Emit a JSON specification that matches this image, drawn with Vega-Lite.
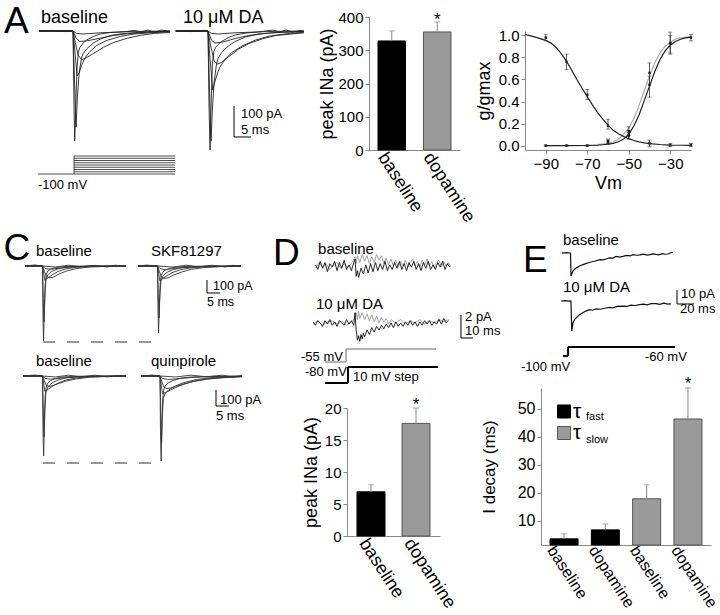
{
"$schema":"https://vega.github.io/schema/vega-lite/v6.json",
"padding":0,
"background":"white",
"config":{"view":{"stroke":null},"font":"Liberation Sans","axis":{"grid":false,"domainColor":"#888","tickColor":"#888","labelColor":"#000","titleColor":"#000","titleFontWeight":"normal","labelFontSize":15,"titleFontSize":18,"tickSize":4,"labelPadding":2,"labelOverlap":false,"labelFlush":false},"text":{"color":"#000"}},
"bounds":"flush",
"spacing":0,
"vconcat":[
 {"bounds":"flush","spacing":0,"hconcat":[
  {"width":366,"height":1,"data":{"values":[{"z":0}]},"mark":{"type":"point","opacity":0},"encoding":{}},
  {"bounds":"flush","spacing":0,"vconcat":[
   {"width":1,"height":14,"data":{"values":[{"z":0}]},"mark":{"type":"point","opacity":0},"encoding":{}},
   {"width":91,"height":133,
    "data":{"values":[{"cond":"baseline","m":328,"hi":358},{"cond":"dopamine","m":355,"hi":385}]},
    "encoding":{"x":{"field":"cond","type":"nominal","sort":null,"scale":{"paddingInner":0.396,"paddingOuter":0.198},"axis":{"title":null,"labelAngle":57,"ticks":false,"labelFontSize":18,"labelPadding":4,"labelOffset":-10}}},
    "layer":[
     {"mark":{"type":"bar","strokeWidth":1},"encoding":{"y":{"field":"m","type":"quantitative","scale":{"domain":[0,400],"nice":false},"axis":{"title":"peak INa (pA)","values":[0,100,200,300,400],"tickCount":10,"titlePadding":1,"labelOverlap":false,"labelFlush":false}},"fill":{"field":"cond","type":"nominal","scale":{"domain":["baseline","dopamine"],"range":["#000000","#9a9a9a"]},"legend":null},"stroke":{"field":"cond","type":"nominal","scale":{"domain":["baseline","dopamine"],"range":["#000000","#555555"]},"legend":null}}},
     {"mark":{"type":"rule","color":"#888","strokeWidth":1},"encoding":{"y":{"field":"m","type":"quantitative"},"y2":{"field":"hi"}}},
     {"mark":{"type":"tick","color":"#888","thickness":1,"size":6,"orient":"horizontal"},"encoding":{"y":{"field":"hi","type":"quantitative"}}},
     {"data":{"values":[{"cond":"dopamine","m":376}]},"mark":{"type":"text","text":"*","fontSize":17,"baseline":"alphabetic"},"encoding":{"y":{"field":"m","type":"quantitative"}}}
    ]}
  ]}
 ]},
 {"bounds":"flush","spacing":0,"hconcat":[
  {"width":522,"height":1,"data":{"values":[{"z":0}]},"mark":{"type":"point","opacity":0},"encoding":{}},
  {"bounds":"flush","spacing":0,"vconcat":[
   {"width":1,"height":28,"data":{"values":[{"z":0}]},"mark":{"type":"point","opacity":0},"encoding":{}},
   {"width":166,"height":119,
    "encoding":{"x":{"field":"V","type":"quantitative","scale":{"domain":[-100,-20],"nice":false,"zero":false},"axis":{"title":"Vm","values":[-90,-70,-50,-30],"tickCount":10,"titlePadding":3,"labelOverlap":false,"labelFlush":false}}},
    "layer":[
     {"data":{"values":[
{"c":"actDA","V":-90,"g":0},{"c":"actDA","V":-80,"g":0.001},{"c":"actDA","V":-70,"g":0.003},{"c":"actDA","V":-65,"g":0.008},{"c":"actDA","V":-60,"g":0.02},{"c":"actDA","V":-57.5,"g":0.035},{"c":"actDA","V":-55,"g":0.058},{"c":"actDA","V":-52.5,"g":0.1},{"c":"actDA","V":-50,"g":0.16},{"c":"actDA","V":-47.5,"g":0.245},{"c":"actDA","V":-45,"g":0.365},{"c":"actDA","V":-42.5,"g":0.5},{"c":"actDA","V":-40,"g":0.635},{"c":"actDA","V":-37.5,"g":0.75},{"c":"actDA","V":-35,"g":0.84},{"c":"actDA","V":-32.5,"g":0.9},{"c":"actDA","V":-30,"g":0.94},{"c":"actDA","V":-27.5,"g":0.965},{"c":"actDA","V":-25,"g":0.978},{"c":"actDA","V":-22.5,"g":0.985},{"c":"actDA","V":-20,"g":0.99},
{"c":"inact","V":-100,"g":1.01},{"c":"inact","V":-95,"g":0.985},{"c":"inact","V":-90,"g":0.955},{"c":"inact","V":-87.5,"g":0.93},{"c":"inact","V":-85,"g":0.89},{"c":"inact","V":-82.5,"g":0.835},{"c":"inact","V":-80,"g":0.765},{"c":"inact","V":-77.5,"g":0.685},{"c":"inact","V":-75,"g":0.6},{"c":"inact","V":-72.5,"g":0.52},{"c":"inact","V":-70,"g":0.445},{"c":"inact","V":-67.5,"g":0.37},{"c":"inact","V":-65,"g":0.3},{"c":"inact","V":-62.5,"g":0.24},{"c":"inact","V":-60,"g":0.185},{"c":"inact","V":-57.5,"g":0.14},{"c":"inact","V":-55,"g":0.108},{"c":"inact","V":-52.5,"g":0.082},{"c":"inact","V":-50,"g":0.062},{"c":"inact","V":-47.5,"g":0.046},{"c":"inact","V":-45,"g":0.034},{"c":"inact","V":-42.5,"g":0.025},{"c":"inact","V":-40,"g":0.018},{"c":"inact","V":-35,"g":0.01},{"c":"inact","V":-30,"g":0.005},{"c":"inact","V":-25,"g":0.003},{"c":"inact","V":-20,"g":0.002},
{"c":"act","V":-90,"g":0},{"c":"act","V":-80,"g":0},{"c":"act","V":-70,"g":0.001},{"c":"act","V":-65,"g":0.003},{"c":"act","V":-60,"g":0.012},{"c":"act","V":-57.5,"g":0.02},{"c":"act","V":-55,"g":0.035},{"c":"act","V":-52.5,"g":0.06},{"c":"act","V":-50,"g":0.1},{"c":"act","V":-47.5,"g":0.18},{"c":"act","V":-45,"g":0.28},{"c":"act","V":-42.5,"g":0.41},{"c":"act","V":-40,"g":0.54},{"c":"act","V":-37.5,"g":0.67},{"c":"act","V":-35,"g":0.78},{"c":"act","V":-32.5,"g":0.86},{"c":"act","V":-30,"g":0.91},{"c":"act","V":-27.5,"g":0.945},{"c":"act","V":-25,"g":0.965},{"c":"act","V":-22.5,"g":0.978},{"c":"act","V":-20,"g":0.985}
     ]},"mark":{"type":"line","strokeWidth":1.2},"encoding":{"y":{"field":"g","type":"quantitative","scale":{"domain":[-0.04,1.04],"nice":false,"zero":false},"axis":{"title":"g/gmax","values":[0,0.2,0.4,0.6,0.8,1],"tickCount":10,"format":".1f","titlePadding":5,"labelOverlap":false,"labelFlush":false}},"color":{"field":"c","type":"nominal","scale":{"domain":["actDA","inact","act"],"range":["#aaaaaa","#222222","#222222"]},"legend":null},"detail":{"field":"c"}}},
     {"data":{"values":[
{"V":-90,"g":0.98,"lo":0.95,"hi":1.01},{"V":-80,"g":0.76,"lo":0.69,"hi":0.83},{"V":-70,"g":0.46,"lo":0.42,"hi":0.51},{"V":-60,"g":0.18,"lo":0.15,"hi":0.24},{"V":-50,"g":0.09,"lo":0.06,"hi":0.12},{"V":-40,"g":0.02,"lo":-0.01,"hi":0.05},{"V":-30,"g":0.005,"lo":-0.01,"hi":0.02},{"V":-20,"g":0.005,"lo":-0.01,"hi":0.02},
{"V":-90,"g":0,"lo":-0.005,"hi":0.005},{"V":-80,"g":0,"lo":-0.005,"hi":0.005},{"V":-70,"g":0,"lo":-0.005,"hi":0.005},{"V":-60,"g":0.03,"lo":0.01,"hi":0.05},{"V":-50,"g":0.1,"lo":0.06,"hi":0.14},{"V":-40,"g":0.55,"lo":0.44,"hi":0.63},{"V":-30,"g":0.93,"lo":0.84,"hi":1.0},{"V":-20,"g":0.98,"lo":0.95,"hi":1.01},
{"V":-60,"g":0.04,"lo":0.02,"hi":0.06},{"V":-50,"g":0.13,"lo":0.09,"hi":0.17},{"V":-40,"g":0.66,"lo":0.56,"hi":0.75},{"V":-30,"g":0.93,"lo":0.83,"hi":1.03}
     ]},
      "layer":[
       {"mark":{"type":"rule","color":"#333","strokeWidth":0.8},"encoding":{"y":{"field":"lo","type":"quantitative"},"y2":{"field":"hi"}}},
       {"mark":{"type":"tick","color":"#333","thickness":0.8,"size":4,"orient":"horizontal"},"encoding":{"y":{"field":"lo","type":"quantitative"}}},
       {"mark":{"type":"tick","color":"#333","thickness":0.8,"size":4,"orient":"horizontal"},"encoding":{"y":{"field":"hi","type":"quantitative"}}},
       {"mark":{"type":"point","filled":true,"shape":"square","size":6,"color":"#222","opacity":1},"encoding":{"y":{"field":"g","type":"quantitative"}}}
      ]}
    ]}
  ]}
 ]},
 {"bounds":"flush","spacing":0,"vconcat":[
  {"width":1,"height":228,"data":{"values":[{"z":0}]},"mark":{"type":"point","opacity":0},"encoding":{}},
  {"width":262,"height":242,"resolve":{"scale":{"x":"independent","y":"independent"}},
   "layer":[
    {"encoding":{"x":{"field":"t","type":"quantitative","scale":{"domain":[-15.19,85.58],"nice":false,"zero":false},"axis":null},"y":{"field":"i","type":"quantitative","scale":{"domain":[-1592.3,269.2],"nice":false,"zero":false},"axis":null}},
     "layer":[
      {"data":{"values":[
{"s":"a","t":-6.7,"i":0},{"s":"a","t":0,"i":0},{"s":"a","t":0.2,"i":-400},{"s":"a","t":0.4,"i":-577},{"s":"a","t":0.7,"i":-350},{"s":"a","t":1,"i":-150},{"s":"a","t":1.4,"i":-70},{"s":"a","t":2,"i":-40},{"s":"a","t":3,"i":-25},{"s":"a","t":5,"i":-12},{"s":"a","t":8,"i":-5},{"s":"a","t":12,"i":-2},{"s":"a","t":20,"i":0},{"s":"a","t":32,"i":0},
{"s":"b","t":-6.7,"i":0},{"s":"b","t":0,"i":0},{"s":"b","t":0.3,"i":-250},{"s":"b","t":0.6,"i":-430},{"s":"b","t":0.9,"i":-250},{"s":"b","t":1.3,"i":-110},{"s":"b","t":2,"i":-70},{"s":"b","t":3,"i":-50},{"s":"b","t":4,"i":-38},{"s":"b","t":6,"i":-22},{"s":"b","t":9,"i":-10},{"s":"b","t":14,"i":-4},{"s":"b","t":20,"i":-1},{"s":"b","t":32,"i":0},
{"s":"c","t":-6.7,"i":0},{"s":"c","t":0,"i":0},{"s":"c","t":0.5,"i":-60},{"s":"c","t":0.9,"i":-110},{"s":"c","t":1.5,"i":-100},{"s":"c","t":2.5,"i":-85},{"s":"c","t":4,"i":-65},{"s":"c","t":6,"i":-42},{"s":"c","t":9,"i":-22},{"s":"c","t":13,"i":-10},{"s":"c","t":18,"i":-4},{"s":"c","t":32,"i":0},
{"s":"d","t":-6.7,"i":0},{"s":"d","t":0,"i":0},{"s":"d","t":0.7,"i":-40},{"s":"d","t":1.5,"i":-80},{"s":"d","t":2.5,"i":-90},{"s":"d","t":4,"i":-88},{"s":"d","t":6,"i":-65},{"s":"d","t":9,"i":-40},{"s":"d","t":13,"i":-20},{"s":"d","t":18,"i":-8},{"s":"d","t":25,"i":-3},{"s":"d","t":32,"i":0},
{"s":"e","t":-6.7,"i":0},{"s":"e","t":0,"i":0},{"s":"e","t":1,"i":-20},{"s":"e","t":3,"i":-25},{"s":"e","t":6,"i":-18},{"s":"e","t":10,"i":-9},{"s":"e","t":16,"i":-3},{"s":"e","t":32,"i":0},
{"s":"f","t":-6.7,"i":0},{"s":"f","t":-3,"i":8},{"s":"f","t":0,"i":0},{"s":"f","t":5,"i":-8},{"s":"f","t":10,"i":6},{"s":"f","t":15,"i":-6},{"s":"f","t":20,"i":5},{"s":"f","t":25,"i":-7},{"s":"f","t":28,"i":6},{"s":"f","t":32,"i":-3}
      ]},"mark":{"type":"line","color":"#333","strokeWidth":0.9},"encoding":{"detail":{"field":"s"}}},
      {"data":{"values":[{"t":0.2,"t2":45.2,"i":-584.6,"i2":-584.6}]},"mark":{"type":"rule","color":"#777","strokeWidth":1.5,"strokeDash":[12,12]},"encoding":{"x2":{"field":"t2"},"y2":{"field":"i2"}}},
      {"data":{"values":[{"t":-2.5,"i":76.9,"label":"baseline"}]},"mark":{"type":"text","align":"left","baseline":"alphabetic","fontSize":15},"encoding":{"text":{"field":"label"}}},
      {"data":{"values":[{"t":-15.0,"i":46,"label":"C"}]},"mark":{"type":"text","align":"left","baseline":"alphabetic","fontSize":37},"encoding":{"text":{"field":"label"}}}
     ]},
    {"encoding":{"x":{"field":"t","type":"quantitative","scale":{"domain":[-59.42,41.35],"nice":false,"zero":false},"axis":null},"y":{"field":"i","type":"quantitative","scale":{"domain":[-1592.3,269.2],"nice":false,"zero":false},"axis":null}},
     "layer":[
      {"data":{"values":[
{"s":"a","t":-7.5,"i":0},{"s":"a","t":0,"i":0},{"s":"a","t":0.2,"i":-350},{"s":"a","t":0.4,"i":-515},{"s":"a","t":0.7,"i":-320},{"s":"a","t":1,"i":-140},{"s":"a","t":1.4,"i":-75},{"s":"a","t":2,"i":-48},{"s":"a","t":3,"i":-32},{"s":"a","t":5,"i":-16},{"s":"a","t":8,"i":-7},{"s":"a","t":12,"i":-3},{"s":"a","t":20,"i":-1},{"s":"a","t":32.1,"i":0},
{"s":"b","t":-7.5,"i":0},{"s":"b","t":0,"i":0},{"s":"b","t":0.3,"i":-220},{"s":"b","t":0.6,"i":-400},{"s":"b","t":0.9,"i":-240},{"s":"b","t":1.3,"i":-120},{"s":"b","t":2,"i":-80},{"s":"b","t":3,"i":-58},{"s":"b","t":4,"i":-45},{"s":"b","t":6,"i":-28},{"s":"b","t":9,"i":-14},{"s":"b","t":14,"i":-6},{"s":"b","t":20,"i":-2},{"s":"b","t":32.1,"i":0},
{"s":"c","t":-7.5,"i":0},{"s":"c","t":0,"i":0},{"s":"c","t":0.5,"i":-60},{"s":"c","t":0.9,"i":-115},{"s":"c","t":1.5,"i":-105},{"s":"c","t":2.5,"i":-90},{"s":"c","t":4,"i":-70},{"s":"c","t":6,"i":-48},{"s":"c","t":9,"i":-28},{"s":"c","t":13,"i":-14},{"s":"c","t":18,"i":-6},{"s":"c","t":32.1,"i":-1},
{"s":"d","t":-7.5,"i":0},{"s":"d","t":0,"i":0},{"s":"d","t":0.7,"i":-40},{"s":"d","t":1.5,"i":-85},{"s":"d","t":2.5,"i":-95},{"s":"d","t":4,"i":-92},{"s":"d","t":6,"i":-72},{"s":"d","t":9,"i":-48},{"s":"d","t":13,"i":-26},{"s":"d","t":18,"i":-12},{"s":"d","t":25,"i":-4},{"s":"d","t":32.1,"i":-1},
{"s":"e","t":-7.5,"i":0},{"s":"e","t":0,"i":0},{"s":"e","t":1,"i":-20},{"s":"e","t":3,"i":-28},{"s":"e","t":6,"i":-20},{"s":"e","t":10,"i":-11},{"s":"e","t":16,"i":-4},{"s":"e","t":32.1,"i":0},
{"s":"f","t":-7.5,"i":0},{"s":"f","t":-4,"i":7},{"s":"f","t":0,"i":0},{"s":"f","t":6,"i":-8},{"s":"f","t":11,"i":6},{"s":"f","t":16,"i":-7},{"s":"f","t":21,"i":6},{"s":"f","t":26,"i":-8},{"s":"f","t":29,"i":5},{"s":"f","t":32.1,"i":-2}
      ]},"mark":{"type":"line","color":"#333","strokeWidth":0.9},"encoding":{"detail":{"field":"s"}}},
      {"data":{"values":[{"t":19.04,"t2":19.04,"i":-107.7,"i2":-207.7},{"t":19.04,"t2":24.04,"i":-207.7,"i2":-207.7}]},"mark":{"type":"rule","color":"#000","strokeWidth":1},"encoding":{"x2":{"field":"t2"},"y2":{"field":"i2"}}},
      {"data":{"values":[{"t":-2.5,"i":76.9,"label":"SKF81297"}]},"mark":{"type":"text","align":"left","baseline":"alphabetic","fontSize":15},"encoding":{"text":{"field":"label"}}},
      {"data":{"values":[{"t":21.35,"i":-184.6,"label":"100 pA"},{"t":19.04,"i":-307.7,"label":"5 ms"}]},"mark":{"type":"text","align":"left","baseline":"alphabetic","fontSize":12.5},"encoding":{"text":{"field":"label"}}}
     ]},
    {"encoding":{"x":{"field":"t","type":"quantitative","scale":{"domain":[-15.19,85.58],"nice":false,"zero":false},"axis":null},"y":{"field":"i","type":"quantitative","scale":{"domain":[-606.25,906.25],"nice":false,"zero":false},"axis":null}},
     "layer":[
      {"data":{"values":[
{"s":"a","t":-7.5,"i":0},{"s":"a","t":0,"i":0},{"s":"a","t":0.2,"i":-350},{"s":"a","t":0.45,"i":-500},{"s":"a","t":0.7,"i":-300},{"s":"a","t":1,"i":-130},{"s":"a","t":1.4,"i":-70},{"s":"a","t":2,"i":-45},{"s":"a","t":3,"i":-30},{"s":"a","t":5,"i":-15},{"s":"a","t":8,"i":-6},{"s":"a","t":12,"i":-2},{"s":"a","t":20,"i":0},{"s":"a","t":32.1,"i":0},
{"s":"b","t":-7.5,"i":0},{"s":"b","t":0,"i":0},{"s":"b","t":0.3,"i":-200},{"s":"b","t":0.6,"i":-380},{"s":"b","t":0.9,"i":-220},{"s":"b","t":1.3,"i":-105},{"s":"b","t":2,"i":-70},{"s":"b","t":3,"i":-52},{"s":"b","t":4,"i":-40},{"s":"b","t":6,"i":-25},{"s":"b","t":9,"i":-12},{"s":"b","t":14,"i":-5},{"s":"b","t":20,"i":-2},{"s":"b","t":32.1,"i":0},
{"s":"c","t":-7.5,"i":0},{"s":"c","t":0,"i":0},{"s":"c","t":0.5,"i":-50},{"s":"c","t":0.9,"i":-95},{"s":"c","t":1.5,"i":-90},{"s":"c","t":2.5,"i":-80},{"s":"c","t":4,"i":-62},{"s":"c","t":6,"i":-44},{"s":"c","t":9,"i":-25},{"s":"c","t":13,"i":-12},{"s":"c","t":18,"i":-5},{"s":"c","t":32.1,"i":0},
{"s":"d","t":-7.5,"i":0},{"s":"d","t":0,"i":0},{"s":"d","t":0.7,"i":-30},{"s":"d","t":1.5,"i":-60},{"s":"d","t":2.5,"i":-65},{"s":"d","t":4,"i":-60},{"s":"d","t":6,"i":-48},{"s":"d","t":9,"i":-32},{"s":"d","t":13,"i":-18},{"s":"d","t":18,"i":-8},{"s":"d","t":25,"i":-3},{"s":"d","t":32.1,"i":0},
{"s":"e","t":-7.5,"i":0},{"s":"e","t":0,"i":0},{"s":"e","t":1,"i":-15},{"s":"e","t":3,"i":-20},{"s":"e","t":6,"i":-15},{"s":"e","t":10,"i":-8},{"s":"e","t":16,"i":-3},{"s":"e","t":32.1,"i":0},
{"s":"f","t":-7.5,"i":0},{"s":"f","t":-3,"i":6},{"s":"f","t":0,"i":0},{"s":"f","t":5,"i":-6},{"s":"f","t":10,"i":5},{"s":"f","t":15,"i":-6},{"s":"f","t":20,"i":5},{"s":"f","t":25,"i":-6},{"s":"f","t":29,"i":4},{"s":"f","t":32.1,"i":-2}
      ]},"mark":{"type":"line","color":"#333","strokeWidth":0.9},"encoding":{"detail":{"field":"s"}}},
      {"data":{"values":[{"t":0.2,"t2":45.2,"i":-543.75,"i2":-543.75}]},"mark":{"type":"rule","color":"#777","strokeWidth":1.5,"strokeDash":[12,12]},"encoding":{"x2":{"field":"t2"},"y2":{"field":"i2"}}},
      {"data":{"values":[{"t":-2.5,"i":62.5,"label":"baseline"}]},"mark":{"type":"text","align":"left","baseline":"alphabetic","fontSize":15},"encoding":{"text":{"field":"label"}}}
     ]},
    {"encoding":{"x":{"field":"t","type":"quantitative","scale":{"domain":[-60.38,40.38],"nice":false,"zero":false},"axis":null},"y":{"field":"i","type":"quantitative","scale":{"domain":[-606.25,906.25],"nice":false,"zero":false},"axis":null}},
     "layer":[
      {"data":{"values":[
{"s":"a","t":-7.3,"i":0},{"s":"a","t":0,"i":0},{"s":"a","t":0.2,"i":-380},{"s":"a","t":0.45,"i":-531},{"s":"a","t":0.7,"i":-320},{"s":"a","t":1,"i":-150},{"s":"a","t":1.4,"i":-90},{"s":"a","t":2,"i":-62},{"s":"a","t":3,"i":-45},{"s":"a","t":5,"i":-28},{"s":"a","t":8,"i":-14},{"s":"a","t":12,"i":-6},{"s":"a","t":20,"i":-2},{"s":"a","t":31.5,"i":0},
{"s":"b","t":-7.3,"i":0},{"s":"b","t":0,"i":0},{"s":"b","t":0.3,"i":-230},{"s":"b","t":0.6,"i":-420},{"s":"b","t":0.9,"i":-250},{"s":"b","t":1.3,"i":-140},{"s":"b","t":2,"i":-108},{"s":"b","t":3,"i":-92},{"s":"b","t":4,"i":-80},{"s":"b","t":6,"i":-62},{"s":"b","t":9,"i":-42},{"s":"b","t":14,"i":-22},{"s":"b","t":20,"i":-10},{"s":"b","t":31.5,"i":-3},
{"s":"c","t":-7.3,"i":0},{"s":"c","t":0,"i":0},{"s":"c","t":0.5,"i":-60},{"s":"c","t":1,"i":-110},{"s":"c","t":1.6,"i":-106},{"s":"c","t":2.5,"i":-100},{"s":"c","t":4,"i":-88},{"s":"c","t":6,"i":-72},{"s":"c","t":9,"i":-52},{"s":"c","t":13,"i":-32},{"s":"c","t":18,"i":-18},{"s":"c","t":25,"i":-8},{"s":"c","t":31.5,"i":-3},
{"s":"d","t":-7.3,"i":0},{"s":"d","t":0,"i":0},{"s":"d","t":0.7,"i":-35},{"s":"d","t":1.5,"i":-70},{"s":"d","t":2.5,"i":-78},{"s":"d","t":4,"i":-75},{"s":"d","t":6,"i":-65},{"s":"d","t":9,"i":-50},{"s":"d","t":13,"i":-34},{"s":"d","t":18,"i":-20},{"s":"d","t":25,"i":-10},{"s":"d","t":31.5,"i":-5},
{"s":"e","t":-7.3,"i":0},{"s":"e","t":0,"i":0},{"s":"e","t":1,"i":-15},{"s":"e","t":3,"i":-22},{"s":"e","t":6,"i":-18},{"s":"e","t":10,"i":-12},{"s":"e","t":16,"i":-6},{"s":"e","t":31.5,"i":-1},
{"s":"f","t":-7.3,"i":0},{"s":"f","t":-3,"i":6},{"s":"f","t":0,"i":0},{"s":"f","t":6,"i":-6},{"s":"f","t":12,"i":5},{"s":"f","t":18,"i":-5},{"s":"f","t":24,"i":5},{"s":"f","t":28,"i":-6},{"s":"f","t":31.5,"i":2}
      ]},"mark":{"type":"line","color":"#333","strokeWidth":0.9},"encoding":{"detail":{"field":"s"}}},
      {"data":{"values":[{"t":21.54,"t2":21.54,"i":-87.5,"i2":-187.5},{"t":21.54,"t2":26.54,"i":-187.5,"i2":-187.5}]},"mark":{"type":"rule","color":"#000","strokeWidth":1},"encoding":{"x2":{"field":"t2"},"y2":{"field":"i2"}}},
      {"data":{"values":[{"t":-3.46,"i":62.5,"label":"quinpirole"}]},"mark":{"type":"text","align":"left","baseline":"alphabetic","fontSize":15},"encoding":{"text":{"field":"label"}}},
      {"data":{"values":[{"t":23.08,"i":-175,"label":"100 pA"},{"t":21.54,"i":-275,"label":"5 ms"}]},"mark":{"type":"text","align":"left","baseline":"alphabetic","fontSize":13},"encoding":{"text":{"field":"label"}}}
     ]}
   ]}
 ]},
 {"bounds":"flush","spacing":0,"hconcat":[
  {"width":268,"height":1,"data":{"values":[{"z":0}]},"mark":{"type":"point","opacity":0},"encoding":{}},
  {"bounds":"flush","spacing":0,"vconcat":[
   {"width":1,"height":228,"data":{"values":[{"z":0}]},"mark":{"type":"point","opacity":0},"encoding":{}},
   {"width":222,"height":160,"resolve":{"scale":{"x":"independent","y":"independent"}},
    "layer":[
     {"encoding":{"x":{"field":"t","type":"quantitative","scale":{"domain":[-70,115],"nice":false,"zero":false},"axis":null},"y":{"field":"i","type":"quantitative","scale":{"domain":[-10.87,3.043],"nice":false,"zero":false},"axis":null}},
      "layer":[
       {"data":{"values":[
{"t":-33,"i":-0.2},{"t":-30,"i":0.3},{"t":-27,"i":-0.1},{"t":-24,"i":0.2},{"t":-21,"i":-0.3},{"t":-18,"i":0.1},{"t":-15,"i":0.3},{"t":-12,"i":-0.2},{"t":-9,"i":0.2},{"t":-6,"i":-0.1},{"t":-3,"i":0.2},{"t":0,"i":0.8},{"t":1,"i":0.2},{"t":2,"i":0.9},{"t":4,"i":0.3},{"t":6,"i":1.0},{"t":8,"i":0.4},{"t":10,"i":0.9},{"t":12,"i":0.2},{"t":14,"i":0.8},{"t":16,"i":0.3},{"t":18,"i":1.0},{"t":20,"i":0.5},{"t":22,"i":0.9},{"t":24,"i":0.2},{"t":26,"i":0.7},{"t":28,"i":0.1},{"t":30,"i":0.6},{"t":32,"i":0.0},{"t":34,"i":0.5},{"t":36,"i":-0.1},{"t":38,"i":0.4},{"t":40,"i":0.0},{"t":42,"i":0.5},{"t":44,"i":-0.1},{"t":46,"i":0.3},{"t":48,"i":0.6},{"t":50,"i":0.0},{"t":52,"i":0.4},{"t":54,"i":-0.1},{"t":56,"i":0.5},{"t":58,"i":0.1},{"t":60,"i":0.6},{"t":62,"i":0.0},{"t":64,"i":0.4},{"t":66,"i":-0.2},{"t":68,"i":0.3},{"t":70,"i":0.5},{"t":72,"i":-0.1},{"t":74,"i":0.4},{"t":76,"i":0.0},{"t":78,"i":0.3},{"t":80,"i":-0.1}
       ]},"mark":{"type":"line","color":"#999","strokeWidth":0.9}},
       {"data":{"values":[
{"t":-33,"i":0.1},{"t":-31,"i":-0.3},{"t":-29,"i":0.4},{"t":-27,"i":-0.2},{"t":-25,"i":0.3},{"t":-23,"i":-0.5},{"t":-21,"i":0.2},{"t":-19,"i":-0.1},{"t":-17,"i":0.4},{"t":-15,"i":-0.4},{"t":-13,"i":0.3},{"t":-11,"i":-0.2},{"t":-9,"i":0.5},{"t":-7,"i":-0.3},{"t":-5,"i":0.1},{"t":-3,"i":-0.4},{"t":-1,"i":0.3},{"t":0,"i":0.6},{"t":1,"i":-0.9},{"t":2,"i":-0.4},{"t":3,"i":-1.0},{"t":5,"i":-0.2},{"t":7,"i":-0.7},{"t":9,"i":0.1},{"t":11,"i":-0.6},{"t":13,"i":0.2},{"t":15,"i":-0.5},{"t":17,"i":0.3},{"t":19,"i":-0.4},{"t":21,"i":0.2},{"t":23,"i":-0.3},{"t":25,"i":0.4},{"t":27,"i":-0.4},{"t":29,"i":0.1},{"t":31,"i":-0.3},{"t":33,"i":0.3},{"t":35,"i":-0.2},{"t":37,"i":0.4},{"t":39,"i":-0.3},{"t":41,"i":0.2},{"t":43,"i":-0.4},{"t":45,"i":0.3},{"t":47,"i":-0.1},{"t":49,"i":0.4},{"t":51,"i":-0.3},{"t":53,"i":0.2},{"t":55,"i":-0.4},{"t":57,"i":0.3},{"t":59,"i":-0.2},{"t":61,"i":0.4},{"t":63,"i":-0.3},{"t":65,"i":0.1},{"t":67,"i":-0.3},{"t":69,"i":0.3},{"t":71,"i":-0.1},{"t":73,"i":0.4},{"t":75,"i":-0.3},{"t":77,"i":0.2},{"t":79,"i":-0.1}
       ]},"mark":{"type":"line","color":"#111","strokeWidth":0.9}},
       {"data":{"values":[{"t":-68.3,"i":0.087,"label":"D"}]},"mark":{"type":"text","align":"left","baseline":"alphabetic","fontSize":37},"encoding":{"text":{"field":"label"}}},
       {"data":{"values":[{"t":-30.8,"i":1.04,"label":"baseline"}]},"mark":{"type":"text","align":"left","baseline":"alphabetic","fontSize":15},"encoding":{"text":{"field":"label"}}}
      ]},
     {"encoding":{"x":{"field":"t","type":"quantitative","scale":{"domain":[-70,115],"nice":false,"zero":false},"axis":null},"y":{"field":"i","type":"quantitative","scale":{"domain":[-5.913,8],"nice":false,"zero":false},"axis":null}},
      "layer":[
       {"data":{"values":[
{"t":-35,"i":-0.1},{"t":-31,"i":0.2},{"t":-27,"i":-0.2},{"t":-23,"i":0.1},{"t":-19,"i":0.2},{"t":-15,"i":-0.1},{"t":-11,"i":0.2},{"t":-7,"i":-0.2},{"t":-3,"i":0.1},{"t":0,"i":0.4},{"t":1,"i":0.9},{"t":2,"i":0.3},{"t":3,"i":1.0},{"t":4,"i":0.4},{"t":6,"i":0.9},{"t":8,"i":0.3},{"t":10,"i":0.8},{"t":12,"i":0.2},{"t":14,"i":0.7},{"t":16,"i":0.1},{"t":18,"i":0.6},{"t":20,"i":0.0},{"t":22,"i":0.5},{"t":24,"i":0.1},{"t":26,"i":0.4},{"t":28,"i":-0.1},{"t":30,"i":0.3},{"t":34,"i":0.0},{"t":38,"i":0.3},{"t":42,"i":-0.1},{"t":46,"i":0.2},{"t":50,"i":0.0},{"t":54,"i":0.3},{"t":58,"i":-0.1},{"t":62,"i":0.2},{"t":66,"i":0.0},{"t":70,"i":0.3},{"t":74,"i":0.1},{"t":78,"i":0.3}
       ]},"mark":{"type":"line","color":"#999","strokeWidth":0.9}},
       {"data":{"values":[
{"t":-35,"i":0.1},{"t":-33,"i":-0.2},{"t":-31,"i":0.2},{"t":-29,"i":0.0},{"t":-27,"i":-0.3},{"t":-25,"i":0.2},{"t":-23,"i":-0.1},{"t":-21,"i":0.3},{"t":-19,"i":-0.2},{"t":-17,"i":0.1},{"t":-15,"i":-0.3},{"t":-13,"i":0.2},{"t":-11,"i":0.0},{"t":-9,"i":-0.2},{"t":-7,"i":0.3},{"t":-5,"i":-0.1},{"t":-3,"i":0.2},{"t":-1,"i":-0.2},{"t":0,"i":0.9},{"t":1,"i":-0.6},{"t":2,"i":-1.5},{"t":3,"i":-1.1},{"t":4,"i":-1.6},{"t":5,"i":-1.0},{"t":6,"i":-1.4},{"t":7,"i":-0.9},{"t":8,"i":-1.2},{"t":10,"i":-0.6},{"t":12,"i":-1.0},{"t":14,"i":-0.4},{"t":16,"i":-0.8},{"t":18,"i":-0.3},{"t":20,"i":-0.6},{"t":22,"i":-0.2},{"t":24,"i":-0.5},{"t":26,"i":-0.1},{"t":28,"i":-0.4},{"t":30,"i":0.0},{"t":32,"i":-0.4},{"t":34,"i":0.1},{"t":36,"i":-0.3},{"t":38,"i":0.0},{"t":40,"i":-0.3},{"t":42,"i":0.1},{"t":44,"i":-0.2},{"t":46,"i":0.2},{"t":48,"i":-0.2},{"t":50,"i":0.1},{"t":52,"i":-0.3},{"t":54,"i":0.1},{"t":56,"i":-0.2},{"t":58,"i":0.2},{"t":60,"i":-0.1},{"t":62,"i":0.2},{"t":64,"i":-0.2},{"t":66,"i":0.1},{"t":68,"i":-0.1},{"t":70,"i":0.3},{"t":72,"i":-0.1},{"t":74,"i":0.4},{"t":76,"i":0.0},{"t":78,"i":0.2}
       ]},"mark":{"type":"line","color":"#111","strokeWidth":0.9}},
       {"data":{"values":[{"t":88.3,"t2":88.3,"i":0.696,"i2":-1.304},{"t":88.3,"t2":98.3,"i":-1.304,"i2":-1.304}]},"mark":{"type":"rule","color":"#000","strokeWidth":1},"encoding":{"x2":{"field":"t2"},"y2":{"field":"i2"}}},
       {"data":{"values":[{"t":-32.5,"i":1.217,"label":"10 μM DA"}]},"mark":{"type":"text","align":"left","baseline":"alphabetic","fontSize":15},"encoding":{"text":{"field":"label"}}},
       {"data":{"values":[{"t":91.7,"i":0.174,"label":"2 pA"},{"t":91.7,"i":-1.04,"label":"10 ms"}]},"mark":{"type":"text","align":"left","baseline":"alphabetic","fontSize":13},"encoding":{"text":{"field":"label"}}}
      ]},
     {"encoding":{"x":{"field":"t","type":"quantitative","scale":{"domain":[-70,115],"nice":false,"zero":false},"axis":null},"y":{"field":"v","type":"quantitative","scale":{"domain":[-77.31,45.77],"nice":false,"zero":false},"axis":null}},
      "layer":[
       {"data":{"values":[{"t":-25,"t2":-7.5,"v":-55,"v2":-55},{"t":-7.5,"t2":-7.5,"v":-55,"v2":-45},{"t":-7.5,"t2":67.5,"v":-45,"v2":-45}]},"mark":{"type":"rule","color":"#999","strokeWidth":1.5},"encoding":{"x2":{"field":"t2"},"y2":{"field":"v2"}}},
       {"data":{"values":[{"t":-45,"v":-54.2,"label":"-55 mV"}]},"mark":{"type":"text","align":"left","baseline":"alphabetic","fontSize":13},"encoding":{"text":{"field":"label"}}}
      ]},
     {"encoding":{"x":{"field":"t","type":"quantitative","scale":{"domain":[-70,115],"nice":false,"zero":false},"axis":null},"y":{"field":"v","type":"quantitative","scale":{"domain":[-85,15],"nice":false,"zero":false},"axis":null}},
      "layer":[
       {"data":{"values":[{"t":-25,"t2":-5.83,"v":-80,"v2":-80},{"t":-5.83,"t2":-5.83,"v":-80,"v2":-70},{"t":-5.83,"t2":69.17,"v":-70,"v2":-70}]},"mark":{"type":"rule","color":"#000","strokeWidth":2}, "encoding":{"x2":{"field":"t2"},"y2":{"field":"v2"}}},
       {"data":{"values":[{"t":-41.7,"v":-75.5,"label":"-80 mV"},{"t":-1.67,"v":-78.75,"label":"10 mV step"}]},"mark":{"type":"text","align":"left","baseline":"alphabetic","fontSize":13},"encoding":{"text":{"field":"label"}}}
      ]}
    ]}
  ]}
 ]},
 {"bounds":"flush","spacing":0,"hconcat":[
  {"width":496,"height":1,"data":{"values":[{"z":0}]},"mark":{"type":"point","opacity":0},"encoding":{}},
  {"bounds":"flush","spacing":0,"vconcat":[
   {"width":1,"height":228,"data":{"values":[{"z":0}]},"mark":{"type":"point","opacity":0},"encoding":{}},
   {"width":224,"height":145,"resolve":{"scale":{"x":"independent","y":"independent"}},
    "layer":[
     {"encoding":{"x":{"field":"t","type":"quantitative","scale":{"domain":[-84.12,179.41],"nice":false,"zero":false},"axis":null},"y":{"field":"i","type":"quantitative","scale":{"domain":[-87.86,15.71],"nice":false,"zero":false},"axis":null}},
      "layer":[
       {"data":{"values":[
{"t":-10,"i":0},{"t":-5,"i":0.2},{"t":-1,"i":0},{"t":0,"i":0},{"t":0.6,"i":-16.4},{"t":1.5,"i":-15},{"t":2.9,"i":-12.9},{"t":4.5,"i":-11.8},{"t":6.5,"i":-10.7},{"t":9,"i":-9.9},{"t":11.2,"i":-9.1},{"t":14.7,"i":-8.3},{"t":18,"i":-7.6},{"t":23,"i":-6.6},{"t":28,"i":-5.9},{"t":34.7,"i":-4.8},{"t":38,"i":-4.9},{"t":41.8,"i":-4.3},{"t":46,"i":-3.5},{"t":50,"i":-3.6},{"t":53.5,"i":-2.4},{"t":58,"i":-2.9},{"t":61.8,"i":-2.4},{"t":66,"i":-1.7},{"t":70,"i":-2.1},{"t":73.5,"i":-1.2},{"t":78,"i":-1.6},{"t":81.8,"i":-1.4},{"t":86,"i":-0.8},{"t":90,"i":-1.5},{"t":93.5,"i":-1.2},{"t":97,"i":-0.6},{"t":100.6,"i":-1.0},{"t":104,"i":-1.3},{"t":108,"i":-0.5},{"t":111,"i":-0.9},{"t":114.7,"i":-0.7},{"t":118,"i":0.2},{"t":120.6,"i":0.5}
       ]},"mark":{"type":"line","color":"#111","strokeWidth":1.2}},
       {"data":{"values":[{"t":-55.9,"i":-13.57,"label":"E"}]},"mark":{"type":"text","align":"left","baseline":"alphabetic","fontSize":37},"encoding":{"text":{"field":"label"}}},
       {"data":{"values":[{"t":-8.8,"i":5.71,"label":"baseline"}]},"mark":{"type":"text","align":"left","baseline":"alphabetic","fontSize":15},"encoding":{"text":{"field":"label"}}}
      ]},
     {"encoding":{"x":{"field":"t","type":"quantitative","scale":{"domain":[-84.12,179.41],"nice":false,"zero":false},"axis":null},"y":{"field":"i","type":"quantitative","scale":{"domain":[-53.57,50],"nice":false,"zero":false},"axis":null}},
      "layer":[
       {"data":{"values":[
{"t":-11,"i":0},{"t":-6,"i":0.2},{"t":-2,"i":-0.1},{"t":0.5,"i":0},{"t":1.5,"i":-21.4},{"t":2.9,"i":-15.7},{"t":4.5,"i":-13.5},{"t":6.5,"i":-12},{"t":8.5,"i":-11},{"t":10.6,"i":-9.8},{"t":14,"i":-8.6},{"t":18,"i":-7.2},{"t":22.4,"i":-6.2},{"t":26,"i":-6.6},{"t":30,"i":-5.6},{"t":35,"i":-5.9},{"t":41.8,"i":-5},{"t":46,"i":-4.6},{"t":50,"i":-4.9},{"t":55,"i":-3.9},{"t":61.8,"i":-3.6},{"t":66,"i":-3.9},{"t":71,"i":-2.9},{"t":76,"i":-3.2},{"t":81.2,"i":-2.6},{"t":86,"i":-2.2},{"t":90,"i":-2.8},{"t":95,"i":-1.9},{"t":100.6,"i":-1.9},{"t":105,"i":-2.4},{"t":110,"i":-1.6},{"t":114,"i":-2.2},{"t":118,"i":-2.1}
       ]},"mark":{"type":"line","color":"#111","strokeWidth":1.2}},
       {"data":{"values":[{"t":125.3,"t2":125.3,"i":7.86,"i2":-2.14},{"t":125.3,"t2":145.3,"i":-2.14,"i2":-2.14}]},"mark":{"type":"rule","color":"#000","strokeWidth":1},"encoding":{"x2":{"field":"t2"},"y2":{"field":"i2"}}},
       {"data":{"values":[{"t":-8.8,"i":6.43,"label":"10 μM DA"}]},"mark":{"type":"text","align":"left","baseline":"alphabetic","fontSize":15},"encoding":{"text":{"field":"label"}}},
       {"data":{"values":[{"t":130,"i":2.14,"label":"10 pA"},{"t":128.8,"i":-8.57,"label":"20 ms"}]},"mark":{"type":"text","align":"left","baseline":"alphabetic","fontSize":13},"encoding":{"text":{"field":"label"}}}
      ]},
     {"encoding":{"x":{"field":"t","type":"quantitative","scale":{"domain":[-84.12,179.41],"nice":false,"zero":false},"axis":null},"y":{"field":"v","type":"quantitative","scale":{"domain":[-188.9,455.6],"nice":false,"zero":false},"axis":null}},
      "layer":[
       {"data":{"values":[{"t":-8.8,"t2":-2.9,"v":-100,"v2":-100},{"t":-2.9,"t2":-2.9,"v":-100,"v2":-60},{"t":-2.9,"t2":123,"v":-60,"v2":-60}]},"mark":{"type":"rule","color":"#000","strokeWidth":2},"encoding":{"x2":{"field":"t2"},"y2":{"field":"v2"}}},
       {"data":{"values":[{"t":-58.2,"v":-166.7,"label":"-100 mV"},{"t":87.6,"v":-122.2,"label":"-60 mV"}]},"mark":{"type":"text","align":"left","baseline":"alphabetic","fontSize":13},"encoding":{"text":{"field":"label"}}}
      ]}
    ]}
  ]}
 ]},
 {"bounds":"flush","spacing":0,"hconcat":[
  {"width":344,"height":1,"data":{"values":[{"z":0}]},"mark":{"type":"point","opacity":0},"encoding":{}},
  {"bounds":"flush","spacing":0,"vconcat":[
   {"width":1,"height":405,"data":{"values":[{"z":0}]},"mark":{"type":"point","opacity":0},"encoding":{}},
   {"width":93,"height":128,
    "data":{"values":[{"cond":"baseline","m":6.9,"hi":8.0},{"cond":"dopamine","m":17.6,"hi":20.0}]},
    "encoding":{"x":{"field":"cond","type":"nominal","sort":null,"scale":{"paddingInner":0.378,"paddingOuter":0.222},"axis":{"title":null,"labelAngle":57,"ticks":false,"labelFontSize":18,"labelPadding":4,"labelOffset":-8}}},
    "layer":[
     {"mark":{"type":"bar","strokeWidth":1},"encoding":{"y":{"field":"m","type":"quantitative","scale":{"domain":[0,20],"nice":false},"axis":{"title":"peak INa (pA)","values":[0,5,10,15,20],"tickCount":10,"titlePadding":4,"labelOverlap":false,"labelFlush":false}},"fill":{"field":"cond","type":"nominal","scale":{"domain":["baseline","dopamine"],"range":["#000000","#9a9a9a"]},"legend":null},"stroke":{"field":"cond","type":"nominal","scale":{"domain":["baseline","dopamine"],"range":["#000000","#555555"]},"legend":null}}},
     {"mark":{"type":"rule","color":"#888","strokeWidth":1},"encoding":{"y":{"field":"m","type":"quantitative"},"y2":{"field":"hi"}}},
     {"mark":{"type":"tick","color":"#888","thickness":1,"size":6,"orient":"horizontal"},"encoding":{"y":{"field":"hi","type":"quantitative"}}},
     {"data":{"values":[{"cond":"dopamine","m":19.7}]},"mark":{"type":"text","text":"*","fontSize":17,"baseline":"alphabetic"},"encoding":{"y":{"field":"m","type":"quantitative"}}}
    ]}
  ]}
 ]},
 {"bounds":"flush","spacing":0,"hconcat":[
  {"width":538,"height":1,"data":{"values":[{"z":0}]},"mark":{"type":"point","opacity":0},"encoding":{}},
  {"bounds":"flush","spacing":0,"vconcat":[
   {"width":1,"height":385,"data":{"values":[{"z":0}]},"mark":{"type":"point","opacity":0},"encoding":{}},
   {"width":170,"height":157,
    "encoding":{"x":{"field":"cat","type":"nominal","sort":["b1","d1","b2","d2"],"scale":{"domain":["b1","d1","b2","d2"],"paddingInner":0.322,"paddingOuter":0.219},"axis":{"title":null,"labelAngle":57,"ticks":false,"labelFontSize":16,"labelPadding":2,"labelOffset":-13,"labelExpr":"datum.value[0] == 'b' ? 'baseline' : 'dopamine'"}}},
    "layer":[
     {"data":{"values":[{"cat":"b1","m":3.6,"hi":5.4,"grp":"fast"},{"cat":"d1","m":6.8,"hi":8.9,"grp":"fast"},{"cat":"b2","m":17.9,"hi":22.9,"grp":"slow"},{"cat":"d2","m":46.4,"hi":57.5,"grp":"slow"}]},
      "layer":[
       {"mark":{"type":"bar","strokeWidth":1},"encoding":{"y":{"field":"m","type":"quantitative","scale":{"domain":[1.4,57.47],"nice":false,"zero":false},"axis":{"title":"I decay (ms)","values":[10,20,30,40,50],"tickCount":10,"titlePadding":19,"labelFontSize":16,"titleFontSize":17,"labelOverlap":false,"labelFlush":false}},"y2":{"datum":1.4},"fill":{"field":"grp","type":"nominal","scale":{"domain":["fast","slow"],"range":["#000000","#9a9a9a"]},"legend":null},"stroke":{"field":"grp","type":"nominal","scale":{"domain":["fast","slow"],"range":["#000000","#555555"]},"legend":null}}},
       {"mark":{"type":"rule","color":"#888","strokeWidth":1},"encoding":{"y":{"field":"m","type":"quantitative"},"y2":{"field":"hi"}}},
       {"mark":{"type":"tick","color":"#888","thickness":1,"size":6,"orient":"horizontal"},"encoding":{"y":{"field":"hi","type":"quantitative"}}}
      ]},
     {"data":{"values":[{"cat":"d2","m":57.1}]},"mark":{"type":"text","text":"*","fontSize":17,"baseline":"alphabetic"},"encoding":{"y":{"field":"m","type":"quantitative"}}},
     {"data":{"values":[{"cat":"b1","m":49.08,"grp":"fast"},{"cat":"b1","m":41.4,"grp":"slow"}]},"mark":{"type":"point","shape":"square","filled":true,"size":169,"opacity":1,"strokeWidth":1},"encoding":{"y":{"field":"m","type":"quantitative"},"fill":{"field":"grp","type":"nominal","legend":null},"stroke":{"field":"grp","type":"nominal","legend":null}}},
     {"data":{"values":[{"cat":"b1","m":46.76,"label":"τ"},{"cat":"b1","m":39.26,"label":"τ"}]},"mark":{"type":"text","align":"left","baseline":"alphabetic","fontSize":21,"dx":9},"encoding":{"y":{"field":"m","type":"quantitative"},"text":{"field":"label"}}},
     {"data":{"values":[{"cat":"b1","m":46.05,"label":"fast"},{"cat":"b1","m":37.83,"label":"slow"}]},"mark":{"type":"text","align":"left","baseline":"alphabetic","fontSize":11,"dx":22},"encoding":{"y":{"field":"m","type":"quantitative"},"text":{"field":"label"}}}
    ]}
  ]}
 ]},
 {"width":301,"height":190,"resolve":{"scale":{"x":"independent","y":"independent"}},
  "layer":[
   {"encoding":{"x":{"field":"t","type":"quantitative","scale":{"domain":[-20.588,67.941],"nice":false,"zero":false},"axis":null},"y":{"field":"i","type":"quantitative","scale":{"domain":[-540,93.33],"nice":false,"zero":false},"axis":null}},
    "layer":[
     {"data":{"values":[
{"s":"a","t":-10,"i":0},{"s":"a","t":0,"i":0},{"s":"a","t":0.3,"i":-250},{"s":"a","t":0.5,"i":-367},{"s":"a","t":0.8,"i":-250},{"s":"a","t":1.2,"i":-120},{"s":"a","t":1.6,"i":-70},{"s":"a","t":2,"i":-55},{"s":"a","t":3,"i":-40},{"s":"a","t":4,"i":-30},{"s":"a","t":6,"i":-18},{"s":"a","t":8,"i":-10},{"s":"a","t":11,"i":-5},{"s":"a","t":15,"i":-2},{"s":"a","t":20,"i":-1},{"s":"a","t":28.5,"i":0},
{"s":"b","t":-10,"i":0},{"s":"b","t":0,"i":0},{"s":"b","t":0.4,"i":-150},{"s":"b","t":0.9,"i":-320},{"s":"b","t":1.3,"i":-220},{"s":"b","t":1.8,"i":-140},{"s":"b","t":2.5,"i":-90},{"s":"b","t":3,"i":-75},{"s":"b","t":4,"i":-60},{"s":"b","t":6,"i":-40},{"s":"b","t":8,"i":-27},{"s":"b","t":11,"i":-15},{"s":"b","t":15,"i":-8},{"s":"b","t":20,"i":-4},{"s":"b","t":28.5,"i":-1},
{"s":"c","t":-10,"i":0},{"s":"c","t":0,"i":0},{"s":"c","t":0.5,"i":-60},{"s":"c","t":1.2,"i":-150},{"s":"c","t":1.8,"i":-140},{"s":"c","t":2.5,"i":-115},{"s":"c","t":3.5,"i":-90},{"s":"c","t":5,"i":-68},{"s":"c","t":7,"i":-48},{"s":"c","t":10,"i":-31},{"s":"c","t":14,"i":-18},{"s":"c","t":18,"i":-10},{"s":"c","t":24,"i":-5},{"s":"c","t":28.5,"i":-2},
{"s":"d","t":-10,"i":0},{"s":"d","t":0,"i":0},{"s":"d","t":0.7,"i":-40},{"s":"d","t":1.5,"i":-80},{"s":"d","t":2.5,"i":-95},{"s":"d","t":3.5,"i":-92},{"s":"d","t":5,"i":-82},{"s":"d","t":7,"i":-68},{"s":"d","t":9,"i":-54},{"s":"d","t":12,"i":-38},{"s":"d","t":16,"i":-24},{"s":"d","t":20,"i":-14},{"s":"d","t":24,"i":-8},{"s":"d","t":28.5,"i":-5},
{"s":"e","t":-10,"i":0},{"s":"e","t":0,"i":0},{"s":"e","t":1,"i":-25},{"s":"e","t":2,"i":-35},{"s":"e","t":4,"i":-33},{"s":"e","t":8,"i":-24},{"s":"e","t":12,"i":-15},{"s":"e","t":16,"i":-9},{"s":"e","t":22,"i":-4},{"s":"e","t":28.5,"i":-2},
{"s":"f","t":-10,"i":0},{"s":"f","t":-6,"i":2},{"s":"f","t":-2,"i":-2},{"s":"f","t":0,"i":0},{"s":"f","t":1,"i":-8},{"s":"f","t":3,"i":-10},{"s":"f","t":8,"i":-6},{"s":"f","t":15,"i":-3},{"s":"f","t":18,"i":2},{"s":"f","t":20,"i":-3},{"s":"f","t":22,"i":3},{"s":"f","t":24,"i":-4},{"s":"f","t":26,"i":3},{"s":"f","t":28.5,"i":-1}
     ]},"mark":{"type":"line","color":"#222","strokeWidth":0.9},"encoding":{"detail":{"field":"s"}}},
     {"data":{"values":[{"t":-9.41,"i":28.3,"label":"baseline"}]},"mark":{"type":"text","align":"left","baseline":"alphabetic","fontSize":18},"encoding":{"text":{"field":"label"}}},
     {"data":{"values":[{"t":-20.3,"i":-6.7,"label":"A"}]},"mark":{"type":"text","align":"left","baseline":"alphabetic","fontSize":37},"encoding":{"text":{"field":"label"}}}
    ]},
   {"encoding":{"x":{"field":"t","type":"quantitative","scale":{"domain":[-60.294,28.235],"nice":false,"zero":false},"axis":null},"y":{"field":"i","type":"quantitative","scale":{"domain":[-540,93.33],"nice":false,"zero":false},"axis":null}},
    "layer":[
     {"data":{"values":[
{"s":"a","t":-9.5,"i":0},{"s":"a","t":0,"i":0},{"s":"a","t":0.3,"i":-250},{"s":"a","t":0.6,"i":-397},{"s":"a","t":0.9,"i":-250},{"s":"a","t":1.3,"i":-110},{"s":"a","t":1.7,"i":-70},{"s":"a","t":2.2,"i":-55},{"s":"a","t":3,"i":-45},{"s":"a","t":4,"i":-35},{"s":"a","t":6,"i":-22},{"s":"a","t":8,"i":-13},{"s":"a","t":11,"i":-7},{"s":"a","t":15,"i":-3},{"s":"a","t":20,"i":-1},{"s":"a","t":28.2,"i":0},
{"s":"b","t":-9.5,"i":0},{"s":"b","t":0,"i":0},{"s":"b","t":0.4,"i":-180},{"s":"b","t":0.9,"i":-367},{"s":"b","t":1.3,"i":-260},{"s":"b","t":1.8,"i":-170},{"s":"b","t":2.5,"i":-110},{"s":"b","t":3,"i":-90},{"s":"b","t":4,"i":-72},{"s":"b","t":6,"i":-50},{"s":"b","t":8,"i":-35},{"s":"b","t":11,"i":-20},{"s":"b","t":15,"i":-10},{"s":"b","t":20,"i":-5},{"s":"b","t":28.2,"i":-1},
{"s":"c","t":-9.5,"i":0},{"s":"c","t":0,"i":0},{"s":"c","t":0.5,"i":-80},{"s":"c","t":1.4,"i":-197},{"s":"c","t":2,"i":-170},{"s":"c","t":2.8,"i":-140},{"s":"c","t":3.5,"i":-120},{"s":"c","t":5,"i":-95},{"s":"c","t":7,"i":-72},{"s":"c","t":10,"i":-50},{"s":"c","t":14,"i":-30},{"s":"c","t":18,"i":-17},{"s":"c","t":24,"i":-8},{"s":"c","t":28.2,"i":-4},
{"s":"d","t":-9.5,"i":0},{"s":"d","t":0,"i":0},{"s":"d","t":0.8,"i":-50},{"s":"d","t":1.8,"i":-100},{"s":"d","t":2.8,"i":-110},{"s":"d","t":4,"i":-105},{"s":"d","t":5.5,"i":-90},{"s":"d","t":7,"i":-78},{"s":"d","t":9,"i":-60},{"s":"d","t":12,"i":-42},{"s":"d","t":16,"i":-26},{"s":"d","t":20,"i":-15},{"s":"d","t":28.2,"i":-6},
{"s":"e","t":-9.5,"i":0},{"s":"e","t":0,"i":0},{"s":"e","t":1,"i":-30},{"s":"e","t":2,"i":-40},{"s":"e","t":4,"i":-38},{"s":"e","t":8,"i":-25},{"s":"e","t":12,"i":-15},{"s":"e","t":16,"i":-9},{"s":"e","t":22,"i":-4},{"s":"e","t":28.2,"i":-2},
{"s":"f","t":-9.5,"i":0},{"s":"f","t":-5,"i":-2},{"s":"f","t":-1,"i":2},{"s":"f","t":0,"i":0},{"s":"f","t":1,"i":-8},{"s":"f","t":3,"i":-10},{"s":"f","t":8,"i":-6},{"s":"f","t":15,"i":-3},{"s":"f","t":19,"i":3},{"s":"f","t":21,"i":-3},{"s":"f","t":23,"i":3},{"s":"f","t":25,"i":-4},{"s":"f","t":27,"i":2},{"s":"f","t":28.2,"i":-1}
     ]},"mark":{"type":"line","color":"#222","strokeWidth":0.9},"encoding":{"detail":{"field":"s"}}},
     {"data":{"values":[{"t":7.65,"t2":7.65,"i":-250,"i2":-353.3},{"t":7.65,"t2":12.65,"i":-353.3,"i2":-353.3}]},"mark":{"type":"rule","color":"#000","strokeWidth":1},"encoding":{"x2":{"field":"t2"},"y2":{"field":"i2"}}},
     {"data":{"values":[{"t":-7.35,"i":28.3,"label":"10 μM DA"}]},"mark":{"type":"text","align":"left","baseline":"alphabetic","fontSize":18},"encoding":{"text":{"field":"label"}}},
     {"data":{"values":[{"t":9.7,"i":-290,"label":"100 pA"},{"t":9.7,"i":-343,"label":"5 ms"}]},"mark":{"type":"text","align":"left","baseline":"alphabetic","fontSize":13},"encoding":{"text":{"field":"label"}}}
    ]},
   {"encoding":{"x":{"field":"t","type":"quantitative","scale":{"domain":[-20.588,67.941],"nice":false,"zero":false},"axis":null},"y":{"field":"v","type":"quantitative","scale":{"domain":[-184.4,660],"nice":false,"zero":false},"axis":null}},
    "layer":[
     {"data":{"values":[{"t":-10.3,"t2":0.3,"v":-100,"v2":-100},{"t":0.3,"t2":0.3,"v":-100,"v2":-20},{"t":0.3,"t2":30,"v":-100,"v2":-100},{"t":0.3,"t2":30,"v":-90,"v2":-90},{"t":0.3,"t2":30,"v":-80,"v2":-80},{"t":0.3,"t2":30,"v":-70,"v2":-70},{"t":0.3,"t2":30,"v":-60,"v2":-60},{"t":0.3,"t2":30,"v":-50,"v2":-50},{"t":0.3,"t2":30,"v":-40,"v2":-40},{"t":0.3,"t2":30,"v":-30,"v2":-30},{"t":0.3,"t2":30,"v":-20,"v2":-20}]},"mark":{"type":"rule","color":"#222","strokeWidth":0.8},"encoding":{"x2":{"field":"t2"},"y2":{"field":"v2"}}},
     {"data":{"values":[{"t":-10.3,"v":-166.7,"label":"-100 mV"}]},"mark":{"type":"text","align":"left","baseline":"alphabetic","fontSize":13},"encoding":{"text":{"field":"label"}}}
    ]}
  ]}
]
}
